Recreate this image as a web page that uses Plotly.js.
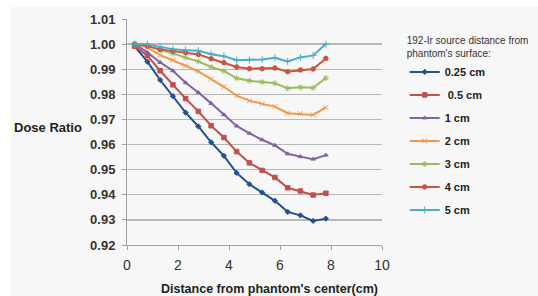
<!DOCTYPE html>
<html>
<head>
<meta charset="utf-8">
<script src="https://cdn.plot.ly/plotly-3.0.1.min.js"></script>
<style>
  html, body { margin:0; padding:0; background:#ffffff; }
  #chart { position:absolute; left:11px; top:7px; width:527px; height:289px; }
</style>
</head>
<body>
<div id="chart"></div>
<script>
// Distance from phantom's center (cm)
const distance = [0.3, 0.8, 1.3, 1.8, 2.3, 2.8, 3.3, 3.8, 4.3, 4.8, 5.3, 5.8, 6.3, 6.8, 7.3, 7.8];

const seriesNames = ["0.25 cm", " 0.5 cm", "1 cm", "2 cm", "3 cm", "4 cm", "5 cm"];

const dose_025 = [0.9991, 0.9930, 0.9857, 0.9793, 0.9727, 0.9672, 0.9609, 0.9555, 0.9487, 0.9442, 0.9409, 0.9376, 0.9332, 0.9318, 0.9296, 0.9305];
const dose_05  = [0.9992, 0.9954, 0.9894, 0.9838, 0.9783, 0.9732, 0.9675, 0.9628, 0.9572, 0.9527, 0.9497, 0.9469, 0.9428, 0.9415, 0.9399, 0.9406];
const dose_1   = [1.0000, 0.9967, 0.9927, 0.9894, 0.9846, 0.9807, 0.9764, 0.9719, 0.9674, 0.9645, 0.9619, 0.9597, 0.9563, 0.9552, 0.9542, 0.9558];
const dose_2   = [1.0000, 0.9987, 0.9956, 0.9936, 0.9914, 0.9891, 0.9861, 0.9830, 0.9795, 0.9775, 0.9762, 0.9751, 0.9725, 0.9723, 0.9718, 0.9748];
const dose_3   = [1.0000, 0.9993, 0.9976, 0.9963, 0.9946, 0.9931, 0.9909, 0.9893, 0.9864, 0.9854, 0.9849, 0.9844, 0.9824, 0.9828, 0.9826, 0.9865];
const dose_4   = [1.0000, 0.9992, 0.9979, 0.9972, 0.9966, 0.9959, 0.9942, 0.9926, 0.9909, 0.9902, 0.9902, 0.9905, 0.9890, 0.9897, 0.9901, 0.9943];
const dose_5   = [1.0000, 0.9999, 0.9989, 0.9980, 0.9976, 0.9974, 0.9960, 0.9952, 0.9936, 0.9936, 0.9939, 0.9946, 0.9931, 0.9947, 0.9955, 1.0000];

const yTicks = [0.92, 0.93, 0.94, 0.95, 0.96, 0.97, 0.98, 0.99, 1.00, 1.01];
const xTicks = [0, 2, 4, 6, 8, 10];

const allSeries = [dose_025, dose_05, dose_1, dose_2, dose_3, dose_4, dose_5];
const colors  = ["#23508f", "#c0504d", "#8064a2", "#f79646", "#9bbb59", "#c9543f", "#4bacc6"];
const symbols = ["diamond", "square", "triangle-up", "x-thin-open", "asterisk-open", "circle", "cross-thin-open"];
const msizes  = [4, 4.5, 4, 5, 5, 4.5, 5];

const traces = allSeries.map((ys, i) => ({
  type: "scatter",
  mode: "lines+markers",
  x: distance,
  y: ys,
  name: seriesNames[i],
  legendgroup: "g" + i,
  line: { color: colors[i], width: 2 },
  marker: { symbol: symbols[i], size: msizes[i], color: colors[i], line: { color: colors[i], width: 1 } }
}));

const FONT = "Liberation Sans, Arial, sans-serif";
const layout = {
  width: 527, height: 289,
  margin: { l: 116, r: 156, t: 12, b: 51, pad: 0, autoexpand: false },
  paper_bgcolor: "#f7f7f7",
  plot_bgcolor: "#f7f7f7",
  font: { family: FONT, color: "#333333" },
  showlegend: true,
  legend: {
    x: 1.089, y: 0.945, xanchor: "left", yanchor: "top",
    bgcolor: "rgba(0,0,0,0)",
    font: { family: FONT, size: 11, color: "#222222", weight: "bold" },
    title: { text: "192-Ir source distance from<br>phantom's surface:", side: "top",
             font: { family: FONT, size: 10, color: "#333333", weight: "normal" } },
    tracegroupgap: 4,
    itemwidth: 30
  },
  xaxis: {
    range: [0, 10],
    tickvals: xTicks,
    ticktext: xTicks.map(String),
    showgrid: false,
    zeroline: false,
    showline: true, linecolor: "#a0a0a0", linewidth: 1,
    ticks: "outside", ticklen: 4, tickcolor: "#a0a0a0",
    ticklabelstandoff: 3,
    tickfont: { family: FONT, size: 14, color: "#333333" },
    fixedrange: true
  },
  yaxis: {
    range: [0.92, 1.01],
    tickvals: yTicks,
    ticktext: yTicks.map(v => v.toFixed(2)),
    showgrid: true, gridcolor: "#b8b8b8", gridwidth: 1.4,
    zeroline: false,
    showline: true, linecolor: "#a0a0a0", linewidth: 1,
    ticks: "outside", ticklen: 4, tickcolor: "#a0a0a0",
    ticklabelstandoff: 4,
    tickfont: { family: FONT, size: 13, color: "#333333", weight: "bold" },
    fixedrange: true
  },
  annotations: [
    { text: "Dose Ratio", xref: "paper", yref: "paper", x: -0.451, y: 0.518,
      xanchor: "left", yanchor: "middle", showarrow: false,
      font: { family: FONT, size: 13, color: "#222222", weight: "bold" } },
    { text: "Distance from phantom's center(cm)", xref: "paper", yref: "paper", x: 0.56, y: -0.195,
      xanchor: "center", yanchor: "middle", showarrow: false,
      font: { family: FONT, size: 12.5, color: "#222222", weight: "bold" } }
  ]
};

Plotly.newPlot("chart", traces, layout, { displayModeBar: false, staticPlot: true });
</script>
</body>
</html>
